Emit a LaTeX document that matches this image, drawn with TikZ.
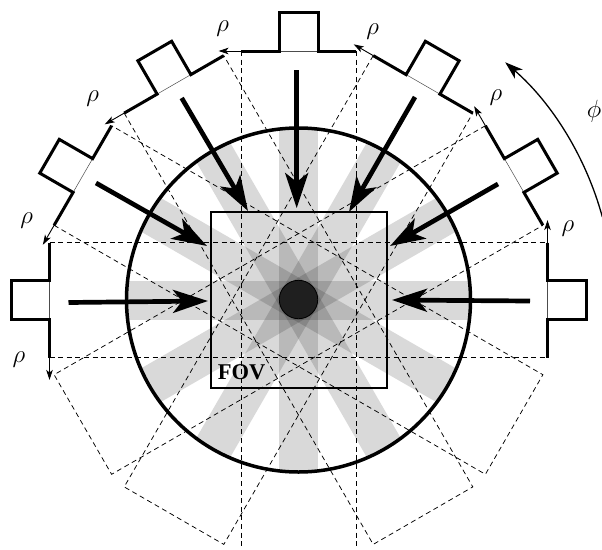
\documentclass[tikz,border=0pt]{standalone}
\usepackage{fontspec}
\newfontfamily\fovfont{Liberation Serif}
\usetikzlibrary{arrows.meta}
\tikzset{
  beam/.style={fill=black,fill opacity=.15,draw=none},
  bar/.style={line width=3pt,line cap=butt,line join=miter},
  base/.style={line width=.5pt,black!70},
  rhoarrow/.style={line width=.9pt,-{Stealth[length=10pt,width=6.5pt,inset=2.5pt]}},
  guide/.style={line width=.75pt,dash pattern=on 5pt off 3.6pt},
  ray/.style={line width=4.7pt,-{Stealth[length=35pt,width=23pt,inset=9pt]}},
  lab/.style={inner sep=0pt,font=\Huge},
}
\begin{document}
\begin{tikzpicture}[x=1pt,y=1pt]
\useasboundingbox (0,0) rectangle (602,-549);
\coordinate (c) at (298.5,-300);
% gray beams
\begin{scope}[shift={(c)}]
  \begin{scope}
    \clip (0,0) circle (172);
    \foreach \a in {0,30,...,150}
      \fill[beam,rotate=\a] (-19.5,-180) rectangle (19.5,180);
  \end{scope}
\end{scope}
% FOV
\node[draw=black,line width=1.8pt,minimum size=176pt,inner sep=0pt] (fov) at (299,-300) {};
\node[inner sep=0pt] (fovlab) at (241.5,-372.5) {\fovfont\bfseries\fontsize{22.5}{24}\selectfont FOV};
% dashed guides and detectors
\begin{scope}[shift={(c)}]
  \foreach \a in {-60,-30,0,30,60,90} {
    \begin{scope}[rotate=\a]
      \ifnum\a=0
        \draw[guide] (-57.5,249) -- (-57.5,-249);
        \draw[guide] (57.5,249) -- (57.5,-249);
      \else\ifnum\a=90
        \draw[guide] (-57.5,249) -- (-57.5,-249);
        \draw[guide] (57.5,249) -- (57.5,-249);
      \else
        \draw[guide] (-57.5,249) -- (-57.5,-249) -- (57.5,-249) -- (57.5,249);
      \fi\fi
    \end{scope}
  }
  \foreach \a in {-90,-60,-30,0,30,60,90} {
    \begin{scope}[rotate=\a]
      \draw[base] (-19.5,249) -- (19.5,249);
      \draw[bar] (-57.5,249) -- (-19.5,249) -- (-19.5,287.5) -- (19.5,287.5) -- (19.5,249) -- (57.5,249);
      \draw[rhoarrow] (-57.5,249) -- (-80,249);
    \end{scope}
  }
\end{scope}
% object
\draw[line width=3.5pt] (c) circle (172);
\fill[black!88] (c) ++(0,0.5) circle (19.2);
\draw[line width=.8pt] (c) ++(0,0.5) circle (19.2);
% projection arrows
\coordinate (a1s) at (68.5,-302.5);  \coordinate (a1e) at (208,-301);
\coordinate (a2s) at (96,-183);      \coordinate (a2e) at (207,-246);
\coordinate (a3s) at (181.7,-98);    \coordinate (a3e) at (248,-211);
\coordinate (a4s) at (296.7,-70);    \coordinate (a4e) at (296.7,-208);
\coordinate (a5s) at (415,-97);      \coordinate (a5e) at (349,-212);
\coordinate (a6s) at (498,-184);     \coordinate (a6e) at (390,-246);
\coordinate (a7s) at (530,-301);     \coordinate (a7e) at (392,-300);
\foreach \i in {1,...,7} \draw[ray] (a\i s) -- (a\i e);
% labels
\node[lab] (r1) at (19,-360) {$\rho$};
\node[lab] (r2) at (26.7,-221) {$\rho$};
\node[lab] (r3) at (92.7,-99) {$\rho$};
\node[lab] (r4) at (222.7,-29) {$\rho$};
\node[lab] (r5) at (372.7,-32) {$\rho$};
\node[lab] (r6) at (496,-98) {$\rho$};
\node[lab] (r7) at (568,-229) {$\rho$};
\node[lab] (phi) at (594,-111) {$\phi$};
% phi arc
\draw[line width=1.3pt,-{Stealth[length=18pt,width=12pt,inset=5pt]}]
  ([shift={(15.3:315)}]c) arc[start angle=15.3,end angle=49,radius=315];
\end{tikzpicture}
\end{document}
